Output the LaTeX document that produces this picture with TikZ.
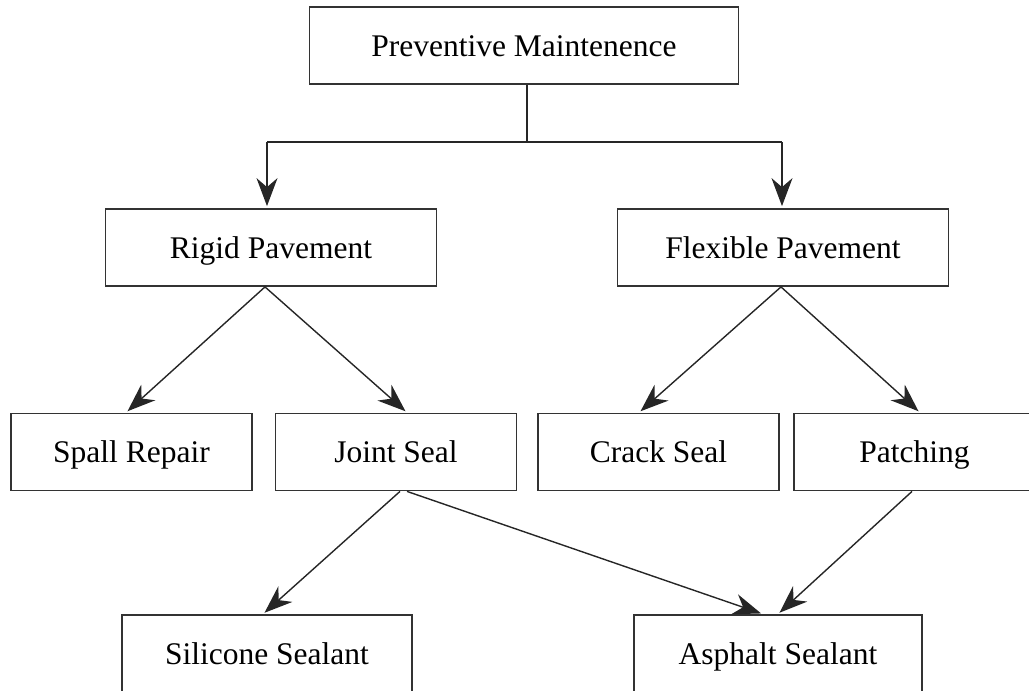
\documentclass[tikz,border=0pt]{standalone}
\usepackage{fontspec}
\setmainfont{Liberation Serif}
\usetikzlibrary{arrows.meta}
\begin{document}
\begin{tikzpicture}[x=1pt,y=-1pt,
  box/.style={draw=black!80, line width=1.8pt, rectangle, inner sep=0pt,
    minimum height=77pt, text height=21pt, text depth=0pt,
    font=\fontsize{31.5}{34}\selectfont},
  wide/.style={box, minimum width=331pt},
  cell/.style={box, minimum width=241pt},
  arr/.style={draw=black!85, line width=1.4pt, shorten >=2pt,
    -{Stealth[length=28pt,width=21pt,inset=9pt]}},
  link/.style={draw=black!85, line width=1.8pt}]
\useasboundingbox (0,0) rectangle (1029,691);

% top level
\node[box, minimum width=429pt] (pm) at (524,45.5) {Preventive Maintenence};

% pavement types
\node[wide] (rigid) at (271,247.5) {Rigid Pavement};
\node[wide] (flex)  at (783,247.5) {Flexible Pavement};

% treatments
\node[cell] (spall) at (131.5,452) {Spall Repair};
\node[cell] (joint) at (396,452)   {Joint Seal};
\node[cell] (crack) at (658.5,452) {Crack Seal};
\node[cell] (patch) at (914.5,452) {Patching};

% sealants
\node[box, minimum width=290pt] (sil) at (267,653.5) {Silicone Sealant};
\node[box, minimum width=288pt] (asp) at (778,653.5) {Asphalt Sealant};

% branching from the top box
\coordinate (jn) at (526.7,142);
\draw[link] (pm.south -| jn) -- (jn);
\draw[link] (267,142) -- (782,142);
\draw[arr] (267,142) -- ([xshift=-4pt]rigid.north);
\draw[arr] (782,142) -- ([xshift=-1pt]flex.north);

% second level
\draw[arr] ([xshift=-6pt]rigid.south) -- ([xshift=-5.5pt]spall.north);
\draw[arr] ([xshift=-6pt]rigid.south) -- ([xshift=11pt]joint.north);
\draw[arr] ([xshift=-2pt]flex.south) -- ([xshift=-19.5pt]crack.north);
\draw[arr] ([xshift=-2pt]flex.south) -- ([xshift=5.5pt]patch.north);

% third level
\draw[arr] ([xshift=4pt]joint.south) -- ([xshift=-4pt]sil.north);
\draw[arr] ([xshift=11pt]joint.south) -- ([xshift=-15pt]asp.north);
\draw[arr] ([xshift=-2.5pt]patch.south) -- (asp.north);
\end{tikzpicture}
\end{document}
